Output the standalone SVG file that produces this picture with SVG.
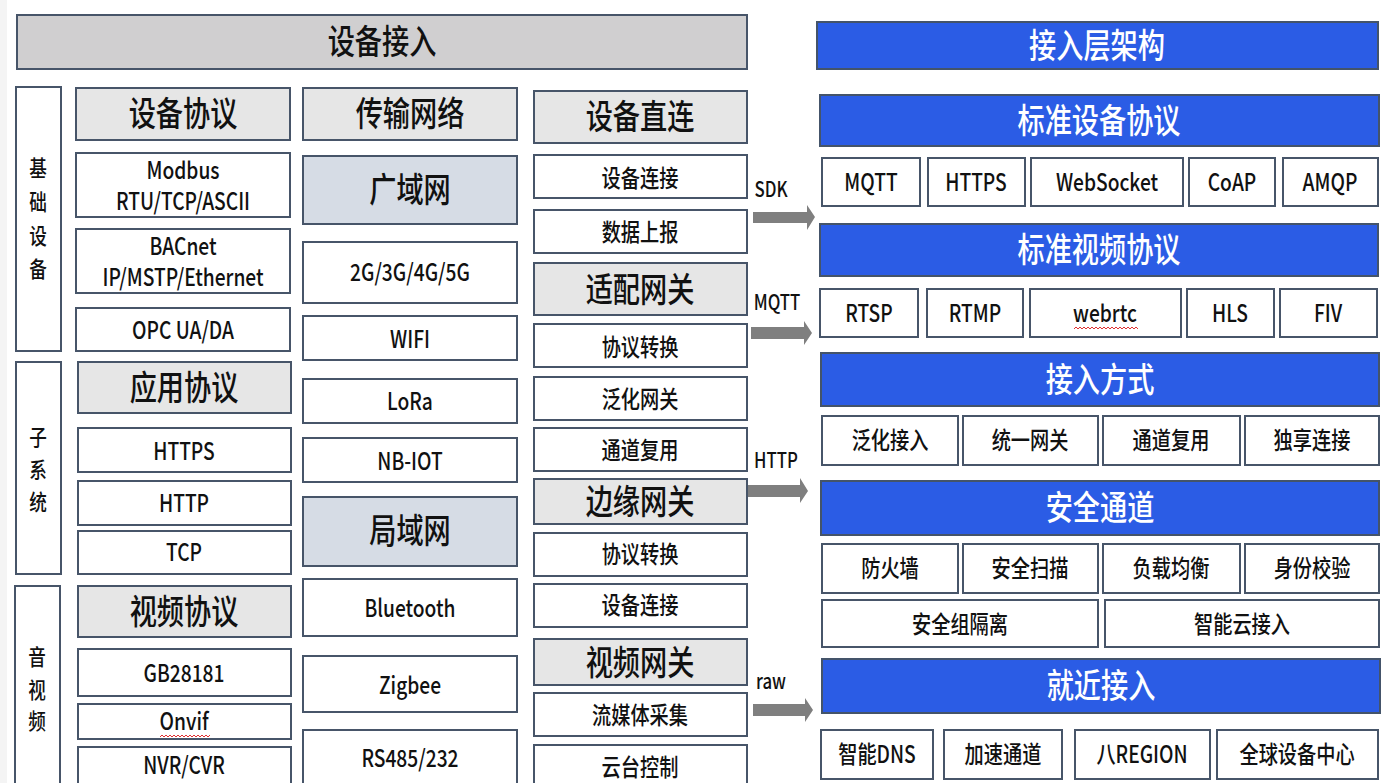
<svg xmlns="http://www.w3.org/2000/svg" width="1387" height="783" viewBox="0 0 1387 783">
<style>
.w,.h,.g,.t,.bl{stroke:#475569;stroke-width:2}
.w{fill:#ffffff}
.h{fill:#e6e6e6}
.g{fill:#d6dce5}
.t{fill:#d0cfd0}
.bl{fill:#2b5ce5;stroke:#44546a}
text{font-family:"Noto Sans CJK SC","Noto Sans",sans-serif;font-weight:500;text-anchor:middle;fill:#111;transform:scaleX(0.8);transform-box:fill-box;transform-origin:center}
.f34{font-size:34px}
.f24{font-size:24px}
.f22{font-size:22px}
.f18{font-size:21px}
.wt{fill:#ffffff}
.arr{fill:#7f7f7f}
.sq{fill:none;stroke:#e03030;stroke-width:1}
</style>
<rect x="0" y="0" width="1387" height="783" fill="#ffffff"/>
<rect x="0" y="0" width="7" height="783" fill="#f4f4f4"/>

<g id="title"><rect class="t" x="17" y="15" width="730" height="54"/><text class="f34" x="382" y="54">设备接入</text></g>

<g id="side1"><rect class="w" x="16" y="87" width="45" height="264"/>
<text class="f22" x="38" y="176">基</text><text class="f22" x="38" y="210">础</text><text class="f22" x="38" y="244">设</text><text class="f22" x="38" y="277">备</text></g>
<g id="side2"><rect class="w" x="16" y="362" width="45" height="212"/>
<text class="f22" x="38" y="445">子</text><text class="f22" x="38" y="478">系</text><text class="f22" x="38" y="510">统</text></g>
<g id="side3"><rect class="w" x="15" y="586" width="45" height="210"/>
<text class="f22" x="37" y="665">音</text><text class="f22" x="37" y="698">视</text><text class="f22" x="37" y="729">频</text></g>

<g id="c1h1"><rect class="h" x="76" y="88" width="214" height="52"/><text class="f34" x="183" y="126">设备协议</text></g>
<g id="c1a"><rect class="w" x="76" y="153" width="214" height="64"/><text class="f24" x="183" y="179">Modbus</text><text class="f24" x="183" y="210">RTU/TCP/ASCII</text></g>
<g id="c1b"><rect class="w" x="76" y="229" width="214" height="64"/><text class="f24" x="183" y="255">BACnet</text><text class="f24" x="183" y="286">IP/MSTP/Ethernet</text></g>
<g id="c1c"><rect class="w" x="76" y="308" width="214" height="43"/><text class="f24" x="183" y="339">OPC UA/DA</text></g>
<g id="c1h2"><rect class="h" x="78" y="362" width="213" height="51"/><text class="f34" x="184" y="400">应用协议</text></g>
<g id="c1d"><rect class="w" x="78" y="428" width="213" height="44"/><text class="f24" x="184" y="460">HTTPS</text></g>
<g id="c1e"><rect class="w" x="78" y="481" width="213" height="44"/><text class="f24" x="184" y="512">HTTP</text></g>
<g id="c1f"><rect class="w" x="78" y="531" width="213" height="43"/><text class="f24" x="184" y="561">TCP</text></g>
<g id="c1h3"><rect class="h" x="78" y="586" width="213" height="51"/><text class="f34" x="184" y="624">视频协议</text></g>
<g id="c1g"><rect class="w" x="78" y="649" width="213" height="47"/><text class="f24" x="184" y="682">GB28181</text></g>
<g id="c1i"><rect class="w" x="78" y="704" width="213" height="35"/><text class="f24" x="184" y="730">Onvif</text>
<path class="sq" d="M160 737 l2 -2 l2 2 l2 -2 l2 2 l2 -2 l2 2 l2 -2 l2 2 l2 -2 l2 2 l2 -2 l2 2 l2 -2 l2 2 l2 -2 l2 2 l2 -2 l2 2 l2 -2 l2 2 l2 -2 l2 2 l2 -2 l2 2 l2 -2"/></g>
<g id="c1j"><rect class="w" x="78" y="747" width="213" height="45"/><text class="f24" x="184" y="774">NVR/CVR</text></g>

<g id="c2h"><rect class="h" x="303" y="88" width="214" height="52"/><text class="f34" x="410" y="126">传输网络</text></g>
<g id="c2a"><rect class="g" x="303" y="156" width="214" height="68"/><text class="f34" x="410" y="202">广域网</text></g>
<g id="c2b"><rect class="w" x="303" y="242" width="214" height="61"/><text class="f24" x="410" y="281">2G/3G/4G/5G</text></g>
<g id="c2c"><rect class="w" x="303" y="316" width="214" height="44"/><text class="f24" x="410" y="348">WIFI</text></g>
<g id="c2d"><rect class="w" x="303" y="379" width="214" height="44"/><text class="f24" x="410" y="410">LoRa</text></g>
<g id="c2e"><rect class="w" x="303" y="438" width="214" height="44"/><text class="f24" x="410" y="470">NB-IOT</text></g>
<g id="c2f"><rect class="g" x="303" y="497" width="214" height="69"/><text class="f34" x="410" y="543">局域网</text></g>
<g id="c2g"><rect class="w" x="303" y="579" width="214" height="57"/><text class="f24" x="410" y="617">Bluetooth</text></g>
<g id="c2i"><rect class="w" x="303" y="656" width="214" height="56"/><text class="f24" x="410" y="694">Zigbee</text></g>
<g id="c2j"><rect class="w" x="303" y="730" width="214" height="62"/><text class="f24" x="410" y="767">RS485/232</text></g>

<g id="c3h1"><rect class="h" x="534" y="91" width="213" height="52"/><text class="f34" x="640" y="129">设备直连</text></g>
<g id="c3a"><rect class="w" x="534" y="155" width="213" height="43"/><text class="f24" x="640" y="187">设备连接</text></g>
<g id="c3b"><rect class="w" x="534" y="210" width="213" height="43"/><text class="f24" x="640" y="241">数据上报</text></g>
<g id="c3h2"><rect class="h" x="534" y="263" width="213" height="52"/><text class="f34" x="640" y="302">适配网关</text></g>
<g id="c3c"><rect class="w" x="534" y="324" width="213" height="43"/><text class="f24" x="640" y="356">协议转换</text></g>
<g id="c3d"><rect class="w" x="534" y="377" width="213" height="43"/><text class="f24" x="640" y="408">泛化网关</text></g>
<g id="c3e"><rect class="w" x="534" y="428" width="213" height="43"/><text class="f24" x="640" y="459">通道复用</text></g>
<g id="c3h3"><rect class="h" x="534" y="479" width="213" height="45"/><text class="f34" x="640" y="514">边缘网关</text></g>
<g id="c3f"><rect class="w" x="534" y="533" width="213" height="43"/><text class="f24" x="640" y="563">协议转换</text></g>
<g id="c3g"><rect class="w" x="534" y="584" width="213" height="43"/><text class="f24" x="640" y="614">设备连接</text></g>
<g id="c3h4"><rect class="h" x="534" y="639" width="213" height="46"/><text class="f34" x="640" y="675">视频网关</text></g>
<g id="c3i"><rect class="w" x="534" y="693" width="213" height="43"/><text class="f24" x="640" y="724">流媒体采集</text></g>
<g id="c3j"><rect class="w" x="534" y="745" width="213" height="47"/><text class="f24" x="640" y="776">云台控制</text></g>

<g id="connectors">
<text class="f18" x="771" y="197">SDK</text>
<polygon class="arr" points="753,212 807,212 807,205 815,217 807,230 807,223 753,223"/>
<text class="f18" x="777" y="310">MQTT</text>
<polygon class="arr" points="751,327 804,327 804,321 812,333 804,345 804,339 751,339"/>
<text class="f18" x="776" y="468">HTTP</text>
<polygon class="arr" points="748,485 800,485 800,478 808,491 800,503 800,497 748,497"/>
<text class="f18" x="771" y="689">raw</text>
<polygon class="arr" points="753,704 805,704 805,698 813,710 805,722 805,716 753,716"/>
</g>

<g id="r0"><rect class="bl" x="817" y="22" width="561" height="47"/><text class="f34 wt" x="1097" y="58">接入层架构</text></g>
<g id="r1"><rect class="bl" x="820" y="95" width="559" height="51"/><text class="f34 wt" x="1099" y="133">标准设备协议</text></g>
<g id="r1a"><rect class="w" x="822" y="158" width="98" height="48"/><text class="f24" x="871" y="191">MQTT</text></g>
<g id="r1b"><rect class="w" x="928" y="158" width="97" height="48"/><text class="f24" x="976" y="191">HTTPS</text></g>
<g id="r1c"><rect class="w" x="1031" y="158" width="152" height="48"/><text class="f24" x="1107" y="191">WebSocket</text></g>
<g id="r1d"><rect class="w" x="1189" y="158" width="86" height="48"/><text class="f24" x="1232" y="191">CoAP</text></g>
<g id="r1e"><rect class="w" x="1283" y="158" width="95" height="48"/><text class="f24" x="1330" y="191">AMQP</text></g>
<g id="r2"><rect class="bl" x="820" y="224" width="558" height="52"/><text class="f34 wt" x="1099" y="262">标准视频协议</text></g>
<g id="r2a"><rect class="w" x="820" y="289" width="98" height="48"/><text class="f24" x="869" y="322">RTSP</text></g>
<g id="r2b"><rect class="w" x="927" y="289" width="96" height="48"/><text class="f24" x="975" y="322">RTMP</text></g>
<g id="r2c"><rect class="w" x="1030" y="289" width="151" height="48"/><text class="f24" x="1105" y="322">webrtc</text>
<path class="sq" d="M1074 329 l2 -2 l2 2 l2 -2 l2 2 l2 -2 l2 2 l2 -2 l2 2 l2 -2 l2 2 l2 -2 l2 2 l2 -2 l2 2 l2 -2 l2 2 l2 -2 l2 2 l2 -2 l2 2 l2 -2 l2 2 l2 -2 l2 2 l2 -2 l2 2 l2 -2 l2 2 l2 -2 l2 2 l2 -2 l2 2"/></g>
<g id="r2d"><rect class="w" x="1187" y="289" width="87" height="48"/><text class="f24" x="1230" y="322">HLS</text></g>
<g id="r2e"><rect class="w" x="1280" y="289" width="97" height="48"/><text class="f24" x="1328" y="322">FIV</text></g>
<g id="r3"><rect class="bl" x="821" y="353" width="558" height="53"/><text class="f34 wt" x="1100" y="392">接入方式</text></g>
<g id="r3a"><rect class="w" x="822" y="416" width="136" height="49"/><text class="f24" x="890" y="449">泛化接入</text></g>
<g id="r3b"><rect class="w" x="963" y="416" width="135" height="49"/><text class="f24" x="1030" y="449">统一网关</text></g>
<g id="r3c"><rect class="w" x="1103" y="416" width="137" height="49"/><text class="f24" x="1171" y="449">通道复用</text></g>
<g id="r3d"><rect class="w" x="1245" y="416" width="134" height="49"/><text class="f24" x="1312" y="449">独享连接</text></g>
<g id="r4"><rect class="bl" x="821" y="481" width="558" height="54"/><text class="f34 wt" x="1100" y="520">安全通道</text></g>
<g id="r4a"><rect class="w" x="822" y="544" width="136" height="49"/><text class="f24" x="890" y="577">防火墙</text></g>
<g id="r4b"><rect class="w" x="963" y="544" width="135" height="49"/><text class="f24" x="1030" y="577">安全扫描</text></g>
<g id="r4c"><rect class="w" x="1103" y="544" width="137" height="49"/><text class="f24" x="1171" y="577">负载均衡</text></g>
<g id="r4d"><rect class="w" x="1245" y="544" width="134" height="49"/><text class="f24" x="1312" y="577">身份校验</text></g>
<g id="r4e"><rect class="w" x="822" y="600" width="276" height="47"/><text class="f24" x="960" y="633">安全组隔离</text></g>
<g id="r4f"><rect class="w" x="1105" y="600" width="274" height="47"/><text class="f24" x="1242" y="633">智能云接入</text></g>
<g id="r5"><rect class="bl" x="822" y="659" width="558" height="54"/><text class="f34 wt" x="1101" y="698">就近接入</text></g>
<g id="r5a"><rect class="w" x="821" y="730" width="112" height="49"/><text class="f24" x="877" y="763">智能DNS</text></g>
<g id="r5b"><rect class="w" x="944" y="730" width="118" height="49"/><text class="f24" x="1003" y="763">加速通道</text></g>
<g id="r5c"><rect class="w" x="1075" y="730" width="135" height="49"/><text class="f24" x="1142" y="763">八REGION</text></g>
<g id="r5d"><rect class="w" x="1217" y="730" width="161" height="49"/><text class="f24" x="1297" y="763">全球设备中心</text></g>
</svg>
